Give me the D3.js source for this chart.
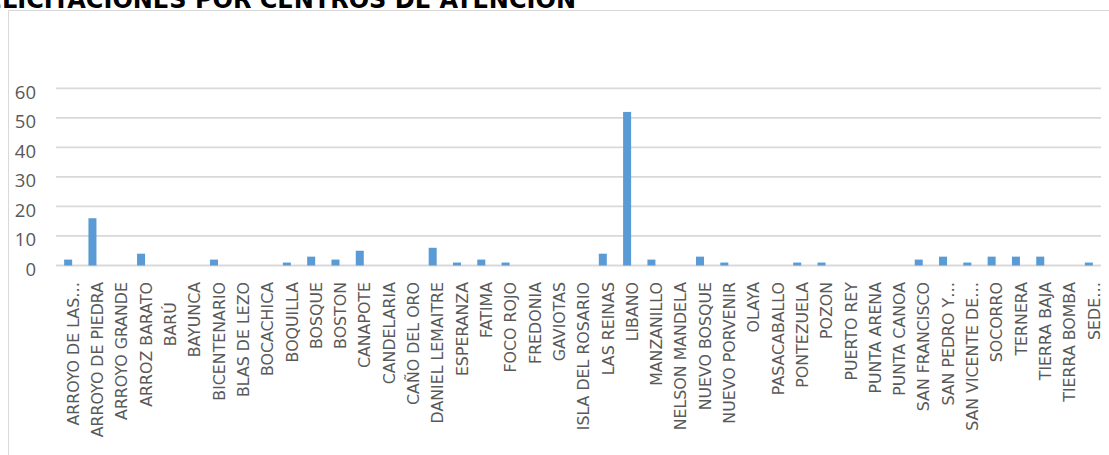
<!DOCTYPE html>
<html>
  <head>
    <meta charset="utf-8">
    <title></title>
    <script src="https://cdn.jsdelivr.net/npm/d3@7"></script>
    <style>
      body { margin: 0; background: #fff; }
      text { white-space: pre; }
    </style>
  </head>
  <body>
  <div id="chart"></div>
  <script>
    /* ------------------
      data
    ------------------ */
    var title = "FELICITACIONES POR CENTROS DE ATENCIÓN";

    var centros = [
      "ARROYO DE LAS…", "ARROYO DE PIEDRA", "ARROYO GRANDE", "ARROZ BARATO", "BARÚ    ",
      "BAYUNCA", "BICENTENARIO", "BLAS DE LEZO", "BOCACHICA", "BOQUILLA",
      "BOSQUE", "BOSTON", "CANAPOTE", "CANDELARIA", "CAÑO DEL ORO",
      "DANIEL LEMAITRE", "ESPERANZA", "FATIMA", "FOCO ROJO", "FREDONIA",
      "GAVIOTAS", "ISLA DEL ROSARIO", "LAS REINAS", "LIBANO", "MANZANILLO",
      "NELSON MANDELA", "NUEVO BOSQUE", "NUEVO PORVENIR", "OLAYA", "PASACABALLO",
      "PONTEZUELA", "POZON", "PUERTO REY", "PUNTA ARENA", "PUNTA CANOA",
      "SAN FRANCISCO", "SAN PEDRO Y…", "SAN VICENTE DE…", "SOCORRO", "TERNERA",
      "TIERRA BAJA", "TIERRA BOMBA", "SEDE…"
    ];

    var felicitaciones = [
      2, 16, 0, 4, 0,
      0, 2, 0, 0, 1,
      3, 2, 5, 0, 0,
      6, 1, 2, 1, 0,
      0, 0, 4, 52, 2,
      0, 3, 1, 0, 0,
      1, 1, 0, 0, 0,
      2, 3, 1, 3, 3,
      3, 0, 1
    ];

    var yTicks = [0, 10, 20, 30, 40, 50, 60];

    /* ------------------
      draw
    ------------------ */
    var width = 1109, height = 455;

    var svg = d3.select('#chart').append('svg')
      .attr('width', width).attr('height', height);

    // chart border (only left and top edges show)
    svg.append('path')
      .attr('d', 'M8.5,455V10.5H1109')
      .attr('fill', 'none')
      .attr('stroke', '#d9d9d9')
      .attr('stroke-width', 1);

    // title, cut by the window edge like in the original screenshot
    svg.append('text')
      .attr('x', 576).attr('y', 8)
      .attr('text-anchor', 'end')
      .attr('font-family', 'DejaVu Sans')
      .attr('font-weight', 'bold')
      .attr('font-size', 24)
      .attr('fill', '#000')
      .text(title);

    var x = d3.scaleBand().domain(centros).range([56, 1101]).paddingInner(0.67).paddingOuter(0.335);
    var y = d3.scaleLinear().domain([0, 60]).range([265.5, 88.3]);

    // gridlines
    svg.append('g').selectAll('line').data(yTicks).enter().append('line')
      .attr('x1', 56).attr('x2', 1101)
      .attr('y1', function(d) { return y(d); })
      .attr('y2', function(d) { return y(d); })
      .attr('stroke', '#d9d9d9')
      .attr('stroke-width', 1.8);

    // y axis labels
    var yAxis = d3.axisLeft(y).tickValues(yTicks).tickSize(0).tickPadding(0);
    var gy = svg.append('g').attr('transform', 'translate(36,4)').call(yAxis);
    gy.select('.domain').remove();
    gy.selectAll('text')
      .attr('font-family', 'Open Sans')
      .attr('font-size', 18.5)
      .attr('fill', '#595959');

    // bars
    svg.append('g').selectAll('rect').data(felicitaciones).enter().append('rect')
      .attr('x', function(d, i) { return x(centros[i]); })
      .attr('y', function(d) { return y(d); })
      .attr('width', x.bandwidth())
      .attr('height', function(d) { return y(0) - y(d); })
      .attr('fill', '#5b9bd5');

    // x axis labels (rotated)
    var xAxis = d3.axisBottom(x).tickSize(0).tickPadding(0);
    var gx = svg.append('g').attr('transform', 'translate(0,282)').call(xAxis);
    gx.select('.domain').remove();
    gx.selectAll('text')
      .attr('transform', 'translate(5,0) rotate(-90)')
      .attr('text-anchor', 'end')
      .attr('dy', '0.36em')
      .attr('y', 0)
      .attr('x', 0)
      .attr('font-family', 'DejaVu Sans')
      .attr('font-size', 15.8)
      .attr('fill', '#595959');
  </script>
</body>
</html>
